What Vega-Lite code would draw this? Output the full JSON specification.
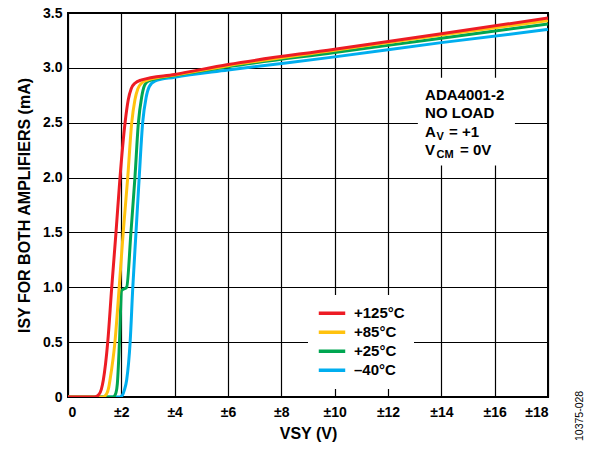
{
  "$schema": "https://vega.github.io/schema/vega-lite/v6.json",
  "width": 480,
  "height": 384,
  "autosize": {"type": "none"},
  "padding": {"left": 68, "top": 13, "right": 52, "bottom": 57},
  "background": "white",
  "title": {"text": "10375-028", "orient": "right", "anchor": "end", "frame": "bounds", "angle": -90, "align": "left", "baseline": "bottom", "offset": 26, "fontSize": 10.5, "fontWeight": "normal", "font": "Liberation Sans", "color": "black"},
  "config": {
    "font": "Liberation Sans",
    "view": {"stroke": "black", "strokeWidth": 2},
    "axis": {
      "labelFont": "Liberation Sans", "labelFontWeight": "bold", "labelFontSize": 14, "labelColor": "black",
      "titleFont": "Liberation Sans", "titleFontWeight": "bold", "titleFontSize": 16, "titleColor": "black",
      "grid": true, "gridColor": "black", "gridWidth": 1.2, "gridOpacity": 1,
      "ticks": false, "domain": false
    },
    "legend": {
      "orient": "none", "legendX": 240, "legendY": 282, "title": null,
      "symbolType": "stroke", "symbolSize": 700, "symbolStrokeWidth": 3.5,
      "labelFont": "Liberation Sans", "labelFontSize": 15, "labelFontWeight": "bold", "labelColor": "black",
      "labelOffset": 7, "fillColor": "white", "padding": 9, "rowPadding": 0, "clipHeight": 18.7
    }
  },
  "datasets": {
    "curves": [
      {"series": "–40°C", "x": 0, "y": 0},
      {"series": "–40°C", "x": 1.95, "y": 0},
      {"series": "–40°C", "x": 2.05, "y": 0.02},
      {"series": "–40°C", "x": 2.11, "y": 0.06},
      {"series": "–40°C", "x": 2.2, "y": 0.155},
      {"series": "–40°C", "x": 2.33, "y": 0.5},
      {"series": "–40°C", "x": 2.43, "y": 1.0},
      {"series": "–40°C", "x": 2.55, "y": 1.5},
      {"series": "–40°C", "x": 2.67, "y": 2.0},
      {"series": "–40°C", "x": 2.8, "y": 2.5},
      {"series": "–40°C", "x": 2.93, "y": 2.73},
      {"series": "–40°C", "x": 3.05, "y": 2.83},
      {"series": "–40°C", "x": 3.26, "y": 2.88},
      {"series": "–40°C", "x": 4, "y": 2.915},
      {"series": "–40°C", "x": 6, "y": 2.98},
      {"series": "–40°C", "x": 10, "y": 3.1},
      {"series": "–40°C", "x": 14, "y": 3.23},
      {"series": "–40°C", "x": 18, "y": 3.35},
      {"series": "+25°C", "x": 0, "y": 0},
      {"series": "+25°C", "x": 1.7, "y": 0},
      {"series": "+25°C", "x": 1.8, "y": 0.04},
      {"series": "+25°C", "x": 1.85, "y": 0.12},
      {"series": "+25°C", "x": 1.93, "y": 0.5},
      {"series": "+25°C", "x": 2.01, "y": 0.97},
      {"series": "+25°C", "x": 2.2, "y": 1.0},
      {"series": "+25°C", "x": 2.36, "y": 1.5},
      {"series": "+25°C", "x": 2.51, "y": 2.0},
      {"series": "+25°C", "x": 2.64, "y": 2.5},
      {"series": "+25°C", "x": 2.76, "y": 2.73},
      {"series": "+25°C", "x": 2.87, "y": 2.84},
      {"series": "+25°C", "x": 3.01, "y": 2.88},
      {"series": "+25°C", "x": 4, "y": 2.93},
      {"series": "+25°C", "x": 6, "y": 3.01},
      {"series": "+25°C", "x": 10, "y": 3.14},
      {"series": "+25°C", "x": 14, "y": 3.27},
      {"series": "+25°C", "x": 18, "y": 3.4},
      {"series": "+85°C", "x": 0, "y": 0},
      {"series": "+85°C", "x": 1.3, "y": 0},
      {"series": "+85°C", "x": 1.45, "y": 0.03},
      {"series": "+85°C", "x": 1.53, "y": 0.09},
      {"series": "+85°C", "x": 1.575, "y": 0.155},
      {"series": "+85°C", "x": 1.76, "y": 0.5},
      {"series": "+85°C", "x": 1.92, "y": 1.0},
      {"series": "+85°C", "x": 2.07, "y": 1.5},
      {"series": "+85°C", "x": 2.24, "y": 2.0},
      {"series": "+85°C", "x": 2.39, "y": 2.5},
      {"series": "+85°C", "x": 2.51, "y": 2.71},
      {"series": "+85°C", "x": 2.62, "y": 2.81},
      {"series": "+85°C", "x": 2.76, "y": 2.86},
      {"series": "+85°C", "x": 3.0, "y": 2.89},
      {"series": "+85°C", "x": 4, "y": 2.935},
      {"series": "+85°C", "x": 6, "y": 3.02},
      {"series": "+85°C", "x": 10, "y": 3.16},
      {"series": "+85°C", "x": 14, "y": 3.3},
      {"series": "+85°C", "x": 18, "y": 3.43},
      {"series": "+125°C", "x": 0, "y": 0},
      {"series": "+125°C", "x": 1.0, "y": 0},
      {"series": "+125°C", "x": 1.15, "y": 0.02},
      {"series": "+125°C", "x": 1.25, "y": 0.07},
      {"series": "+125°C", "x": 1.325, "y": 0.155},
      {"series": "+125°C", "x": 1.49, "y": 0.5},
      {"series": "+125°C", "x": 1.64, "y": 1.0},
      {"series": "+125°C", "x": 1.8, "y": 1.5},
      {"series": "+125°C", "x": 1.95, "y": 2.0},
      {"series": "+125°C", "x": 2.14, "y": 2.5},
      {"series": "+125°C", "x": 2.26, "y": 2.71},
      {"series": "+125°C", "x": 2.37, "y": 2.81},
      {"series": "+125°C", "x": 2.51, "y": 2.86},
      {"series": "+125°C", "x": 2.76, "y": 2.89},
      {"series": "+125°C", "x": 4, "y": 2.94},
      {"series": "+125°C", "x": 6, "y": 3.03},
      {"series": "+125°C", "x": 10, "y": 3.17},
      {"series": "+125°C", "x": 14, "y": 3.31},
      {"series": "+125°C", "x": 18, "y": 3.455}
    ],
    "box": [{"x": 13.12, "x2": 16.76, "y": 2.11, "y2": 2.91}],
    "notes": [
      {"x": 13.39, "y": 2.753, "t": "ADA4001-2"},
      {"x": 13.39, "y": 2.592, "t": "NO LOAD"},
      {"x": 13.39, "y": 2.418, "t": "A"},
      {"x": 14.29, "y": 2.418, "t": "= +1"},
      {"x": 13.39, "y": 2.252, "t": "V"},
      {"x": 14.7, "y": 2.252, "t": "= 0V"}
    ],
    "subs": [
      {"x": 13.82, "y": 2.418, "t": "V"},
      {"x": 13.82, "y": 2.252, "t": "CM"}
    ]
  },
  "encoding": {
    "x": {
      "field": "x", "type": "quantitative",
      "scale": {"domain": [0, 18], "nice": false, "zero": false},
      "axis": {
        "values": [0, 2, 4, 6, 8, 10, 12, 14, 16, 18],
        "labelExpr": "datum.value == 0 ? '0' : '±' + datum.value",
        "labelPadding": 8, "title": "VSY (V)", "titlePadding": 6
      }
    },
    "y": {
      "field": "y", "type": "quantitative",
      "scale": {"domain": [0, 3.5], "nice": false},
      "axis": {
        "values": [0, 0.5, 1, 1.5, 2, 2.5, 3, 3.5],
        "labelExpr": "datum.value == 0 ? '0' : format(datum.value, '.1f')",
        "labelPadding": 6, "title": "ISY FOR BOTH AMPLIFIERS (mA)", "titlePadding": 10
      }
    }
  },
  "layer": [
    {
      "data": {"name": "box"},
      "mark": {"type": "rect", "fill": "white", "stroke": null},
      "encoding": {"x2": {"field": "x2"}, "y2": {"field": "y2"}}
    },
    {
      "data": {"name": "curves"},
      "mark": {"type": "line", "strokeWidth": 3, "interpolate": "monotone", "clip": true},
      "encoding": {
        "color": {
          "field": "series", "type": "nominal",
          "scale": {"domain": ["+125°C", "+85°C", "+25°C", "–40°C"], "range": ["#ED1C24", "#FFC20E", "#00A651", "#00AEEF"]},
          "legend": {}
        }
      }
    },
    {
      "data": {"name": "notes"},
      "mark": {"type": "text", "align": "left", "baseline": "middle", "font": "Liberation Sans", "fontWeight": "bold", "fontSize": 15, "color": "black"},
      "encoding": {"text": {"field": "t"}}
    },
    {
      "data": {"name": "subs"},
      "mark": {"type": "text", "align": "left", "baseline": "middle", "font": "Liberation Sans", "fontWeight": "bold", "fontSize": 11, "dy": 5, "color": "black"},
      "encoding": {"text": {"field": "t"}}
    }
  ]
}
